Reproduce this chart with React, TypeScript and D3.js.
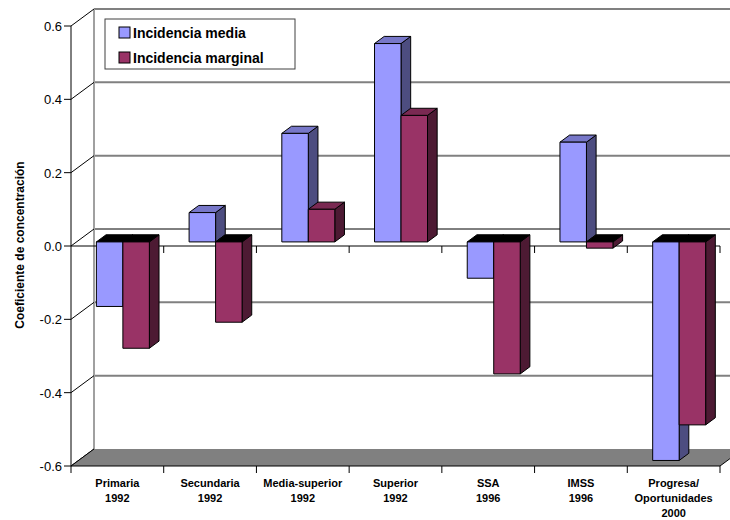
import React from "react";
import * as d3 from "d3";

const categories: string[][] = [
  ["Primaria", "1992"],
  ["Secundaria", "1992"],
  ["Media-superior", "1992"],
  ["Superior", "1992"],
  ["SSA", "1996"],
  ["IMSS", "1996"],
  ["Progresa/", "Oportunidades", "2000"],
];
const seriesNames = ["Incidencia media", "Incidencia marginal"];
const incidenciaMedia = [-0.176, 0.08, 0.296, 0.541, -0.099, 0.272, -0.596];
const incidenciaMarginal = [-0.29, -0.219, 0.089, 0.345, -0.36, -0.017, -0.499];
const yTicks = [-0.6, -0.4, -0.2, 0.0, 0.2, 0.4, 0.6];

const W = 730;
const H = 520;
const X0 = 71;
const X1 = 720;
const DX = 23;
const DY = -17;
const D0 = 0.24;
const D1 = 0.66;

const colors = [
  { front: "#9999FF", side: "#4D4D80", top: "#7777C8" },
  { front: "#993366", side: "#4D1A33", top: "#7A2952" },
];

export default function App() {
  const y = d3.scaleLinear().domain([-0.6, 0.6]).range([466, 26]);
  const x = d3
    .scaleBand<number>()
    .domain(categories.map((_, i) => i))
    .range([X0, X1])
    .paddingInner(0)
    .paddingOuter(0);
  const xs = d3
    .scaleBand<number>()
    .domain([0, 1])
    .range([0, x.bandwidth()])
    .paddingInner(0)
    .paddingOuter(0.75);
  const series = [incidenciaMedia, incidenciaMarginal];
  const ox0 = D0 * DX, oy0 = D0 * DY, ox1 = D1 * DX, oy1 = D1 * DY;
  const pts = (p: number[][]) => p.map((q) => q.join(",")).join(" ");

  const bars: React.ReactNode[] = [];
  categories.forEach((_, i) => {
    series.forEach((vals, s) => {
      const v = vals[i];
      const xa = (x(i) as number) + (xs(s) as number);
      const xb = xa + xs.bandwidth();
      const yt = y(Math.max(v, 0));
      const yb = y(Math.min(v, 0));
      const c = colors[s];
      const stroke = { stroke: "#000", strokeWidth: 1, strokeLinejoin: "round" as const };
      bars.push(
        <g key={`b${i}-${s}`}>
          <polygon
            points={pts([
              [xb + ox0, yt + oy0],
              [xb + ox1, yt + oy1],
              [xb + ox1, yb + oy1],
              [xb + ox0, yb + oy0],
            ])}
            fill={c.side}
            {...stroke}
          />
          <polygon
            points={pts([
              [xa + ox0, yt + oy0],
              [xb + ox0, yt + oy0],
              [xb + ox1, yt + oy1],
              [xa + ox1, yt + oy1],
            ])}
            fill={v >= 0 ? c.top : "#000"}
            {...stroke}
          />
          <rect
            x={xa + ox0}
            y={yt + oy0}
            width={xb - xa}
            height={Math.max(yb - yt, 0.5)}
            fill={c.front}
            {...stroke}
          />
        </g>
      );
    });
  });

  const yFloor = y(-0.6);
  const yZero = y(0);

  return (
    <svg
      width={W}
      height={H}
      style={{ position: "absolute", left: 0, top: 0, background: "#fff" }}
      fontFamily="Arial, 'Liberation Sans', sans-serif"
    >
      <rect x={0} y={0} width={W} height={H} fill="#fff" />
      {/* back wall gridlines */}
      {yTicks
        .filter((t) => t > -0.6)
        .map((t) => (
          <line
            key={`g${t}`}
            x1={X0 + DX}
            x2={W + 20}
            y1={y(t) + DY}
            y2={y(t) + DY}
            stroke={t === 0 ? "#000" : "#808080"}
            strokeWidth={t === 0 ? 1 : 2}
          />
        ))}
      {/* left wall edge */}
      <line x1={X0 + DX} x2={X0 + DX} y1={y(0.6) + DY} y2={yFloor + DY} stroke="#a0a0a0" strokeWidth={2} />
      {/* left wall diagonals */}
      {yTicks.map((t) => (
        <line key={`d${t}`} x1={X0} y1={y(t)} x2={X0 + DX} y2={y(t) + DY} stroke="#000" strokeWidth={1} />
      ))}
      {/* floor */}
      <polygon
        points={pts([
          [X0, yFloor],
          [X1, yFloor],
          [X1 + DX, yFloor + DY],
          [X0 + DX, yFloor + DY],
        ])}
        fill="#808080"
      />
      <line x1={X0} y1={yFloor} x2={X0 + DX} y2={yFloor + DY} stroke="#000" />
      <line x1={X1} y1={yFloor} x2={X1 + DX} y2={yFloor + DY} stroke="#000" />
      <line x1={X0} x2={X1} y1={yFloor} y2={yFloor} stroke="#000" />
      {/* category axis at zero */}
      <line x1={X0} x2={X1} y1={yZero} y2={yZero} stroke="#000" />
      {categories.map((_, i) => (
        <line key={`zt${i}`} x1={(x(i) as number) + x.bandwidth()} x2={(x(i) as number) + x.bandwidth()} y1={yZero} y2={yZero + 7} stroke="#000" />
      ))}
      {[0, ...categories.map((_, i) => i + 1)].map((i) => {
        const xx = X0 + i * x.step();
        return <line key={`bt${i}`} x1={xx} x2={xx} y1={yFloor} y2={yFloor + 7} stroke="#000" />;
      })}
      {/* bars */}
      {bars}
      {/* y axis */}
      <line x1={X0} x2={X0} y1={y(0.6)} y2={yFloor} stroke="#000" />
      {yTicks.map((t) => (
        <g key={`yt${t}`}>
          <line x1={X0 - 7} x2={X0} y1={y(t)} y2={y(t)} stroke="#000" />
          <text x={X0 - 9} y={y(t) + 5} textAnchor="end" fontSize={13} fill="#000">
            {t.toFixed(1)}
          </text>
        </g>
      ))}
      <text
        transform={`translate(24,${yZero - 1}) rotate(-90)`}
        textAnchor="middle"
        fontSize={12}
        fontWeight="bold"
      >
        Coeficiente de concentración
      </text>
      {/* category labels */}
      {categories.map((lines, i) => (
        <text key={`cl${i}`} textAnchor="middle" fontSize={11} fontWeight="bold">
          {lines.map((l, k) => (
            <tspan key={k} x={(x(i) as number) + x.bandwidth() / 2} y={487 + k * 15}>
              {l}
            </tspan>
          ))}
        </text>
      ))}
      {/* legend */}
      <rect x={105} y={19} width={190} height={50} fill="#fff" stroke="#404040" strokeWidth={1} />
      {seriesNames.map((n, k) => (
        <g key={n}>
          <rect x={119} y={27 + k * 25} width={11} height={11} fill={colors[k].front} stroke="#000" />
          <text x={133} y={38 + k * 25} fontSize={14} fontWeight="bold">
            {n}
          </text>
        </g>
      ))}
    </svg>
  );
}
